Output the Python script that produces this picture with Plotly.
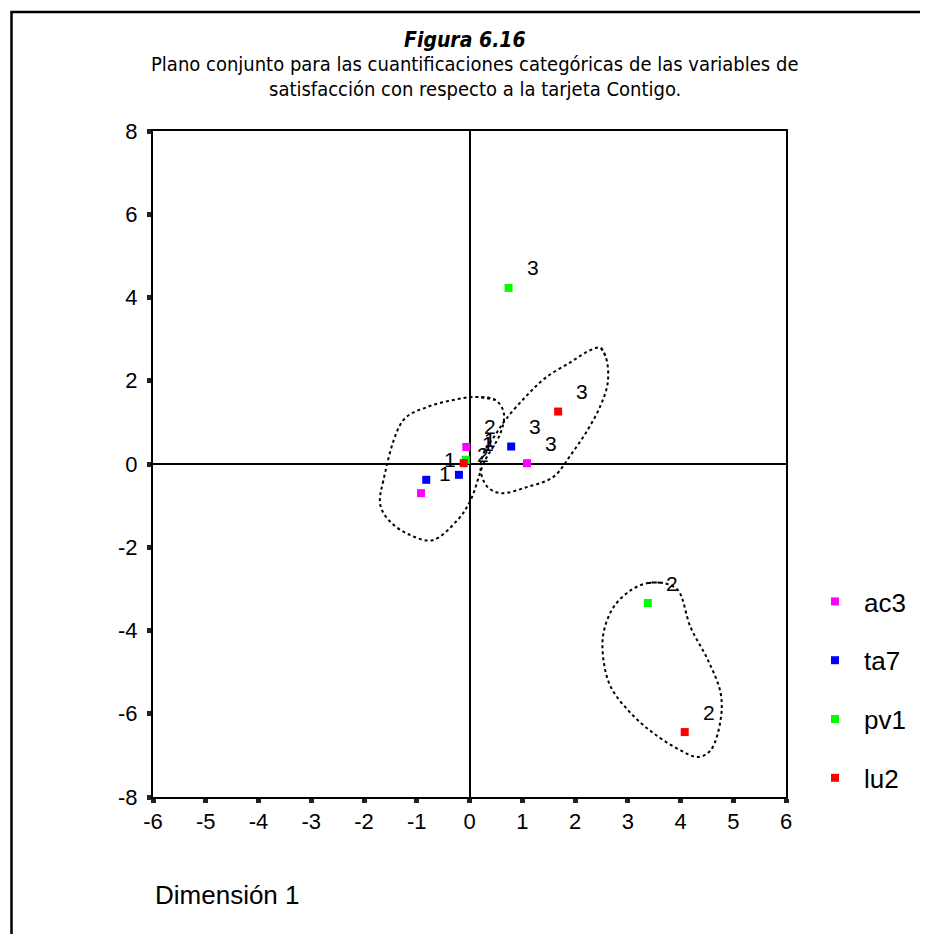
import plotly.graph_objects as go

# ---- data: category quantifications (Dimensión 1, Dimensión 2) ----
variables = ["ac3", "ta7", "pv1", "lu2"]
colors = ["#FF00FF", "#0000FF", "#00FF00", "#FF0000"]
categories = ["1", "2", "3"]

ac3_x = [-0.92, -0.06, 1.09]
ac3_y = [-0.70, 0.41, 0.02]
ta7_x = [-0.82, -0.20, 0.79]
ta7_y = [-0.38, -0.26, 0.42]
pv1_x = [-0.07, 3.38, 0.74]
pv1_y = [0.10, -3.34, 4.23]
lu2_x = [-0.11, 4.08, 1.68]
lu2_y = [0.02, -6.44, 1.26]

x_ticks = [-6, -5, -4, -3, -2, -1, 0, 1, 2, 3, 4, 5, 6]
y_ticks = [-8, -6, -4, -2, 0, 2, 4, 6, 8]

# dotted outlines drawn by the author around groups of points
group1_x = [0.11, 0.49, 0.65, 0.59, 0.27, 0.02, -0.23, -0.70, -1.12, -1.50, -1.69, -1.63, -1.25, -0.80, -0.30]
group1_y = [1.61, 1.54, 1.23, 0.75, 0.02, -0.87, -1.35, -1.83, -1.71, -1.39, -0.99, -0.38, 1.06, 1.37, 1.54]
group2_x = [2.49, 2.60, 2.62, 2.49, 2.24, 1.92, 1.59, 1.10, 0.59, 0.34, 0.21, 0.27, 0.49, 0.68, 1.06, 1.44, 1.92, 2.30]
group2_y = [2.79, 2.50, 1.95, 1.42, 0.82, 0.22, -0.31, -0.55, -0.70, -0.55, -0.14, 0.26, 0.70, 1.06, 1.61, 2.07, 2.45, 2.74]
group3_x = [3.38, 3.68, 3.95, 4.19, 4.52, 4.76, 4.76, 4.57, 4.33, 4.00, 3.49, 3.06, 2.68, 2.54, 2.54, 2.73, 3.06]
group3_y = [-2.86, -2.86, -3.03, -3.92, -4.71, -5.50, -6.15, -6.88, -7.04, -6.88, -6.47, -5.99, -5.36, -4.71, -4.06, -3.44, -3.03]

series_x = [ac3_x, ta7_x, pv1_x, lu2_x]
series_y = [ac3_y, ta7_y, pv1_y, lu2_y]

FONT = "Liberation Sans, Arial, sans-serif"
NARROW = "Liberation Sans Narrow, Arial Narrow, DejaVu Sans Condensed, sans-serif"

fig = go.Figure()

# outlines
for gx, gy in [(group1_x, group1_y), (group2_x, group2_y), (group3_x, group3_y)]:
    fig.add_trace(go.Scatter(
        x=gx + gx[:2], y=gy + gy[:2], mode="lines",
        line=dict(color="black", width=2, dash="dot", shape="spline", smoothing=1.0),
        showlegend=False, hoverinfo="skip"))

annotations = []
for name, col, xs, ys in zip(variables, colors, series_x, series_y):
    fig.add_trace(go.Scatter(
        x=xs, y=ys, mode="markers", name=name, legendgroup=name,
        marker=dict(symbol="square", size=8, color=col, line=dict(width=0)),
        text=categories))
    for cx, cy, lab in zip(xs, ys, categories):
        annotations.append(dict(x=cx, y=cy, xref="x", yref="y", text=lab,
                                xanchor="center", yanchor="middle",
                                showarrow=False, xshift=24, yshift=20,
                                font=dict(family=FONT, size=21, color="black")))

# page geometry (the page body adds an 8px offset)
OFF = 8
W, H = 920, 926
PL, PR, PT, PB = 153, 786, 131, 797        # plot area in page pixels
ml, mr, mt, mb = PL - OFF, OFF + W - PR, PT - OFF, OFF + H - PB
pw, ph = PR - PL, PB - PT

def px_x(p):
    return (p - PL) / pw

def px_y(p):
    return (PB - p) / ph

annotations += [
    dict(x=px_x(465), y=px_y(40), xref="paper", yref="paper", showarrow=False,
         xanchor="center", yanchor="middle",
         text="<b><i>Figura 6.16</i></b>", font=dict(family=NARROW, size=21, color="black")),
    dict(x=px_x(474), y=px_y(64), xref="paper", yref="paper", showarrow=False,
         xanchor="center", yanchor="middle",
         text="Plano conjunto para las cuantificaciones categóricas de las variables de",
         font=dict(family=NARROW, size=20, color="black")),
    dict(x=px_x(475), y=px_y(89), xref="paper", yref="paper", showarrow=False,
         xanchor="center", yanchor="middle",
         text="satisfacción con respecto a la tarjeta Contigo.",
         font=dict(family=NARROW, size=20, color="black")),
    dict(x=px_x(153), y=px_y(895), xref="paper", yref="paper", showarrow=False,
         xanchor="left", yanchor="middle",
         text="Dimensión 1", font=dict(family=FONT, size=26, color="black")),
]

shapes = [
    # outer frame (left and top edges visible)
    dict(type="rect", xref="paper", yref="paper",
         x0=px_x(11.5), x1=px_x(990), y0=px_y(1000), y1=px_y(12),
         line=dict(color="black", width=2.5), layer="below"),
]

axis_common = dict(showgrid=False, zeroline=True, zerolinecolor="black", zerolinewidth=1.5,
                   showline=True, linecolor="black", linewidth=2, mirror=True,
                   ticks="outside", ticklen=4, tickwidth=5, tickcolor="#222",
                   tickfont=dict(family=FONT, size=22, color="black"))

fig.update_layout(
    width=W, height=H,
    margin=dict(l=ml, r=mr, t=mt, b=mb, autoexpand=False),
    paper_bgcolor="white", plot_bgcolor="white",
    xaxis=dict(range=[-6, 6], tickvals=x_ticks, ticktext=[str(v) for v in x_ticks], **axis_common),
    yaxis=dict(range=[-8, 8], tickvals=y_ticks, ticktext=[str(v) for v in y_ticks],
               ticklabelstandoff=5, **axis_common),
    legend=dict(x=px_x(806), y=px_y(578), xanchor="left", yanchor="top",
                font=dict(family=FONT, size=26, color="black"),
                tracegroupgap=22, itemwidth=48, itemsizing="trace", bgcolor="rgba(0,0,0,0)"),
    annotations=annotations,
    shapes=shapes,
    showlegend=True,
)

fig.write_html("out.html")
